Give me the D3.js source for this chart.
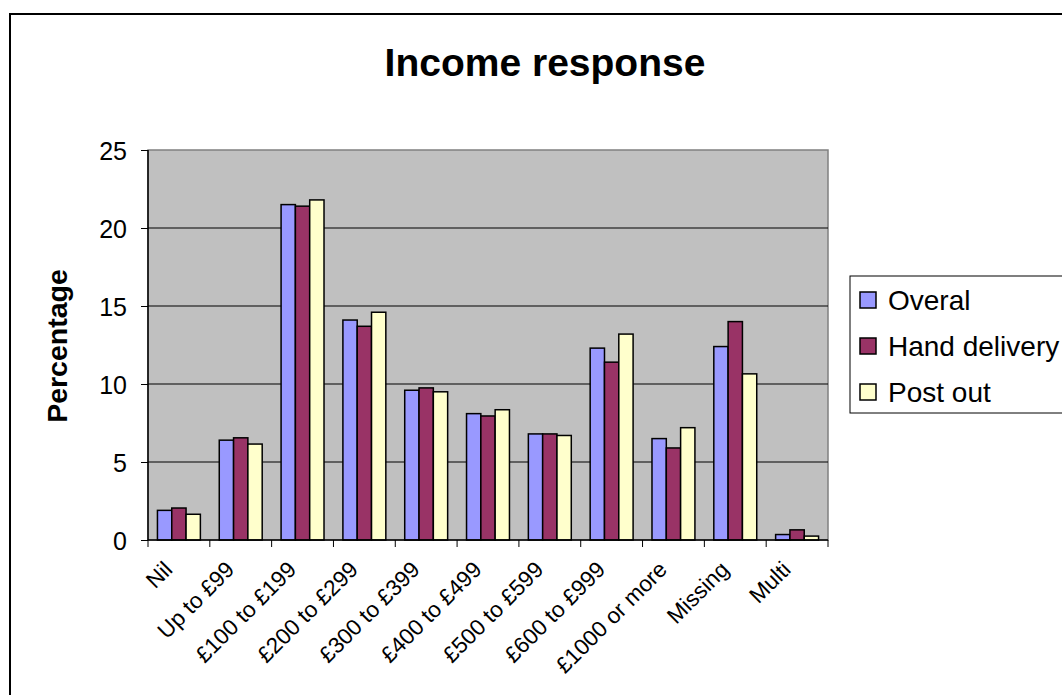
<!DOCTYPE html>
<html>
<head>
<meta charset="utf-8">
<script src="https://cdn.jsdelivr.net/npm/d3@7/dist/d3.min.js"></script>
<style>
  html, body { margin: 0; padding: 0; background: #fff; }
  svg { display: block; font-family: Arial, "Liberation Sans", sans-serif; }
</style>
</head>
<body>
<svg id="chart" width="1062" height="695"></svg>
<script>
// Income bands and response percentages per delivery method
const categories = ["Nil", "Up to £99", "£100 to £199", "£200 to £299", "£300 to £399",
  "£400 to £499", "£500 to £599", "£600 to £999", "£1000 or more", "Missing", "Multi"];
const seriesNames = ["Overal", "Hand delivery", "Post out"];
const overal       = [1.9, 6.4, 21.5, 14.1, 9.6, 8.1, 6.8, 12.3, 6.5, 12.4, 0.35];
const handDelivery = [2.05, 6.55, 21.4, 13.7, 9.75, 7.95, 6.8, 11.4, 5.9, 14.0, 0.65];
const postOut      = [1.65, 6.15, 21.8, 14.6, 9.5, 8.35, 6.7, 13.2, 7.2, 10.65, 0.25];
const seriesColors = ["#9999FF", "#993366", "#FFFFCC"];
const yTicks = [0, 5, 10, 15, 20, 25];

const seriesValues = [overal, handDelivery, postOut];
const rows = categories.map((c, i) => ({
  cat: c,
  vals: seriesNames.map((s, j) => ({ key: s, idx: j, value: seriesValues[j][i] }))
}));

const svg = d3.select("#chart");

// outer chart frame
svg.append("rect")
  .attr("x", 10).attr("y", 14).attr("width", 1070).attr("height", 700)
  .attr("fill", "#fff").attr("stroke", "#000").attr("stroke-width", 2);

const plot = { left: 148, top: 150, right: 828, bottom: 540 };

const x = d3.scaleBand().domain(categories).range([plot.left, plot.right]).paddingInner(0).paddingOuter(0);
const x1 = d3.scaleBand().domain(seriesNames).range([0, x.bandwidth()]).paddingInner(0).paddingOuter(0.66);
const y = d3.scaleLinear().domain([0, 25]).range([plot.bottom, plot.top]);

// plot area background
svg.append("rect")
  .attr("x", plot.left).attr("y", plot.top)
  .attr("width", plot.right - plot.left).attr("height", plot.bottom - plot.top)
  .attr("fill", "#C0C0C0").attr("stroke", "#808080").attr("stroke-width", 1.5);

// horizontal gridlines
svg.append("g")
  .selectAll("line")
  .data(yTicks.filter(t => t > 0 && t < 25))
  .join("line")
  .attr("x1", plot.left).attr("x2", plot.right)
  .attr("y1", d => y(d)).attr("y2", d => y(d))
  .attr("stroke", "#000").attr("stroke-width", 1);

// bars
const groups = svg.append("g")
  .selectAll("g")
  .data(rows)
  .join("g")
  .attr("transform", d => `translate(${x(d.cat)},0)`);

groups.selectAll("rect")
  .data(d => d.vals)
  .join("rect")
  .attr("x", d => x1(d.key))
  .attr("y", d => y(d.value))
  .attr("width", x1.bandwidth())
  .attr("height", d => y(0) - y(d.value))
  .attr("fill", d => seriesColors[d.idx])
  .attr("stroke", "#000")
  .attr("stroke-width", 1.5);

// y axis
const yAxis = svg.append("g")
  .attr("transform", `translate(${plot.left},0)`)
  .call(d3.axisLeft(y).tickValues(yTicks).tickSize(7).tickPadding(14).tickFormat(d3.format("d")));
yAxis.select(".domain").attr("stroke", "#000").attr("stroke-width", 1.5).attr("d", `M0,${plot.top}V${plot.bottom}`);
yAxis.selectAll(".tick line").attr("stroke", "#000");
yAxis.selectAll(".tick text")
  .attr("font-size", 25).attr("fill", "#000").attr("dy", "0.36em")
  .style("font-family", "Arial, 'Liberation Sans', sans-serif");

// x axis: ticks sit at band boundaries
const xAxisG = svg.append("g").attr("transform", `translate(0,${plot.bottom})`);
xAxisG.append("line")
  .attr("x1", plot.left).attr("x2", plot.right)
  .attr("stroke", "#000").attr("stroke-width", 1.5);
const boundaries = categories.map(c => x(c)).concat([plot.right]);
xAxisG.selectAll("line.tk")
  .data(boundaries)
  .join("line")
  .attr("class", "tk")
  .attr("x1", d => d).attr("x2", d => d)
  .attr("y1", 0).attr("y2", 7)
  .attr("stroke", "#000");

xAxisG.selectAll("text")
  .data(categories)
  .join("text")
  .attr("transform", d => `translate(${x(d) + x.bandwidth() / 2 - 5},${31}) rotate(-45)`)
  .attr("text-anchor", "end")
  .attr("font-size", 22.5)
  .attr("fill", "#000")
  .text(d => d);

// y axis title
svg.append("text")
  .attr("transform", `translate(67,${(plot.top + plot.bottom) / 2 + 1}) rotate(-90)`)
  .attr("text-anchor", "middle")
  .attr("font-size", 28.5)
  .attr("font-weight", "bold")
  .text("Percentage");

// chart title
svg.append("text")
  .attr("x", 545).attr("y", 76)
  .attr("text-anchor", "middle")
  .attr("font-size", 39)
  .attr("font-weight", "bold")
  .text("Income response");

// legend
const legend = svg.append("g").attr("transform", "translate(850,276)");
legend.append("rect")
  .attr("x", 0).attr("y", 0).attr("width", 240).attr("height", 137)
  .attr("fill", "#fff").attr("stroke", "#000").attr("stroke-width", 1);
const items = legend.selectAll("g.item")
  .data(seriesNames)
  .join("g")
  .attr("class", "item")
  .attr("transform", (d, i) => `translate(0,${24 + i * 46})`);
items.append("rect")
  .attr("x", 10).attr("y", -8).attr("width", 16).attr("height", 16)
  .attr("fill", (d, i) => seriesColors[i])
  .attr("stroke", "#000").attr("stroke-width", 1.5);
items.append("text")
  .attr("x", 38).attr("y", 0).attr("dy", "0.36em")
  .attr("font-size", 28)
  .attr("fill", "#000")
  .text(d => d);
</script>
</body>
</html>
